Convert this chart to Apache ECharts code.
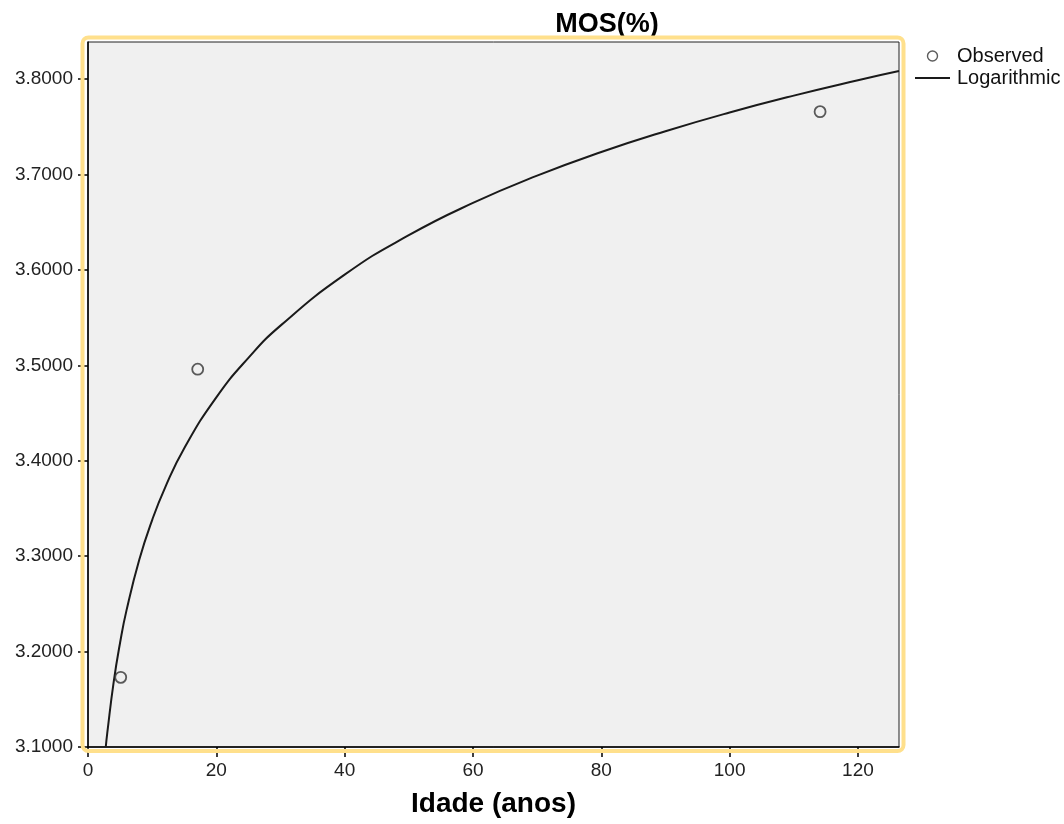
<!DOCTYPE html>
<html>
<head>
<meta charset="utf-8">
<script src="https://cdn.jsdelivr.net/npm/echarts@6/dist/echarts.min.js"></script>
<style>html,body{margin:0;padding:0;background:#fff}#c{width:1064px;height:824px}</style>
</head>
<body>
<div id="c"></div>
<script>
// Observed points (Idade, MOS)
const observedX = [5.1, 17.1, 114.1];
const observedY = [3.173, 3.496, 3.766];
// Logarithmic fit curve
const curveX = [2.77, 3, 4, 5, 6, 8, 10, 12, 15, 20, 25, 30, 40, 50, 60, 70, 80, 90, 100, 110, 120, 126.4];
const curveY = [3.100, 3.1146, 3.168, 3.2093, 3.2432, 3.2965, 3.3379, 3.3717, 3.4132, 3.4665, 3.5079, 3.5417, 3.5951, 3.6365, 3.6703, 3.6989, 3.7237, 3.7455, 3.7651, 3.7828, 3.7989, 3.8085];
const xTicks = [0, 20, 40, 60, 80, 100, 120];
const yTicks = [3.1, 3.2, 3.3, 3.4, 3.5, 3.6, 3.7, 3.8];

const FONT = 'Liberation Sans, Arial, sans-serif';
const chart = echarts.init(document.getElementById('c'), null, {renderer: 'canvas'});
const G = {left: 88, top: 42, right: 165, bottom: 77};
const plotR = 1064 - G.right, plotB = 824 - G.bottom;

chart.setOption({
  animation: false,
  title: {
    text: 'MOS(%)', left: 602, top: 6, textAlign: 'center',
    textStyle: {fontFamily: FONT, fontSize: 27, fontWeight: 'bold', color: '#000'}
  },
  legend: {
    orient: 'vertical', left: 915, top: 45, padding: 0, itemWidth: 35, itemHeight: 10, itemGap: 0,
    symbolKeepAspect: true,
    textStyle: {fontFamily: FONT, fontSize: 20, color: '#111', lineHeight: 22, padding: [0, 0, 0, 2]},
    data: [
      {name: 'Observed', icon: 'circle', itemStyle: {color: '#fff', borderColor: '#333', borderWidth: 1.4}},
      {name: 'Logarithmic', icon: 'path://M0,0h35v2h-35z', itemStyle: {color: '#1a1a1a', borderWidth: 0}}
    ]
  },
  grid: {left: G.left, top: G.top, right: G.right, bottom: G.bottom, show: true,
    backgroundColor: '#f0f0f0', borderColor: '#222', borderWidth: 1},
  xAxis: {
    type: 'value', min: 0, max: 126.4, interval: 20,
    name: 'Idade (anos)', nameLocation: 'middle', nameGap: 43,
    nameTextStyle: {fontFamily: FONT, fontSize: 28, fontWeight: 'bold', color: '#000', verticalAlign: 'top'},
    axisLine: {lineStyle: {color: '#000', width: 1.5}},
    axisTick: {show: true, length: 10, lineStyle: {color: '#000', width: 1.5}, customValues: xTicks},
    axisLabel: {fontFamily: FONT, fontSize: 19, color: '#222', margin: 14, customValues: xTicks},
    splitLine: {show: false}
  },
  yAxis: {
    type: 'value', min: 3.1, max: 3.839, interval: 0.1,
    axisLine: {show: true, lineStyle: {color: '#000', width: 1.5}},
    axisTick: {show: true, length: 10, lineStyle: {color: '#000', width: 1.5}, customValues: yTicks},
    axisLabel: {fontFamily: FONT, fontSize: 19, color: '#222', margin: 15,
      formatter: v => v.toFixed(4), customValues: yTicks},
    splitLine: {show: false}
  },
  graphic: [{
    type: 'rect', z: 100, silent: true,
    shape: {x: G.left - 5.5, y: G.top - 4.5, width: (plotR + 4.5) - (G.left - 5.5), height: (plotB + 4) - (G.top - 4.5), r: 6},
    style: {fill: 'none', stroke: '#ffe08c', lineWidth: 4}
  }],
  series: [
    {
      name: 'Observed', type: 'scatter', symbol: 'circle', symbolSize: 11,
      itemStyle: {color: '#f0f0f0', borderColor: '#333', borderWidth: 1.8},
      data: observedX.map((x, i) => [x, observedY[i]]), z: 3
    },
    {
      name: 'Logarithmic', type: 'line', smooth: true, symbol: 'none', showSymbol: false, clip: true,
      lineStyle: {color: '#1a1a1a', width: 2},
      itemStyle: {color: '#1a1a1a'},
      data: curveX.map((x, i) => [x, curveY[i]]), z: 2
    }
  ]
});
</script>
</body>
</html>
